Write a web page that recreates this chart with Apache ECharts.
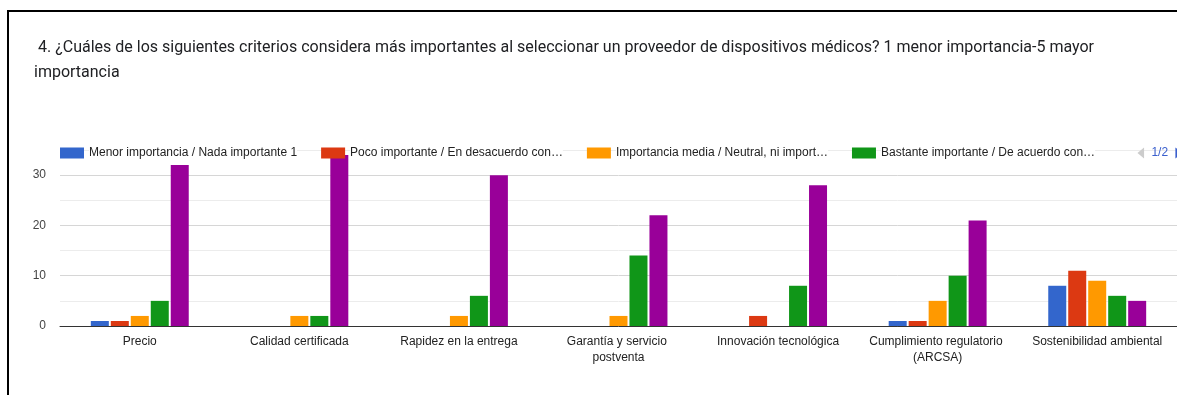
<!DOCTYPE html>
<html>
<head>
<meta charset="utf-8">
<script src="https://cdn.jsdelivr.net/npm/echarts@6/dist/echarts.min.js"></script>
<style>
  html, body { margin: 0; padding: 0; background: #fff; }
  #chart { position: absolute; left: 0; top: 0; width: 1177px; height: 395px; }
  #frame { position: absolute; left: 7px; top: 10px; width: 1200px; height: 400px;
           border-left: 2px solid #000; border-top: 2px solid #000; pointer-events: none; z-index: 5; }
</style>
</head>
<body>
<div id="chart"></div>
<div id="frame"></div>
<script>
const titleText = " 4. ¿Cuáles de los siguientes criterios considera más importantes al seleccionar un proveedor de dispositivos médicos? 1 menor importancia-5 mayor\nimportancia";

const categories = [
  "Precio",
  "Calidad certificada",
  "Rapidez en la entrega",
  "Garantía y servicio postventa",
  "Innovación tecnológica",
  "Cumplimiento regulatorio (ARCSA)",
  "Sostenibilidad ambiental"
];

const seriesNames = [
  "Menor importancia / Nada importante 1",
  "Poco importante / En desacuerdo con…",
  "Importancia media / Neutral, ni import…",
  "Bastante importante / De acuerdo con…",
  "Mayor importancia / Muy importante 5"
];

const seriesColors = ["#3366cc", "#dc3912", "#ff9900", "#109618", "#990099"];

const values1 = [1, 0, 0, 0, 0, 1, 8];
const values2 = [1, 0, 0, 0, 2, 1, 11];
const values3 = [2, 2, 2, 2, 0, 5, 9];
const values4 = [5, 2, 6, 14, 8, 10, 6];
const values5 = [32, 34, 30, 22, 28, 21, 5];

const allValues = [values1, values2, values3, values4, values5];

const chart = echarts.init(document.getElementById('chart'), null, { renderer: 'canvas' });

const series = seriesNames.map((name, i) => ({
  name: name,
  type: 'bar',
  data: allValues[i],
  barWidth: 18,
  barGap: '11%',
  itemStyle: { color: seriesColors[i] },
  emphasis: { disabled: true }
}));

chart.setOption({
  animation: false,
  backgroundColor: 'transparent',
  title: {
    text: titleText,
    left: 29,
    top: 30,
    textStyle: {
      fontFamily: 'Roboto',
      fontSize: 16,
      fontWeight: 'normal',
      color: '#202124',
      lineHeight: 25
    }
  },
  legend: {
    type: 'scroll',
    left: 55,
    top: 142,
    width: 1122,
    itemWidth: 24,
    itemHeight: 11,
    itemGap: 24,
    icon: 'rect',
    data: seriesNames,
    textStyle: {
      fontFamily: 'Liberation Sans, Arial',
      fontSize: 12,
      color: '#222',
      backgroundColor: '#fff'
    },
    pageButtonItemGap: 2,
    pageButtonGap: 28,
    pageIconSize: [11, 11],
    pageIcons: {
      horizontal: ['path://M0,0L12,-10L12,10z', 'path://M0,0L-12,-10L-12,10z']
    },
    pageIconColor: '#3a5fcd',
    pageIconInactiveColor: '#cccccc',
    pageTextStyle: {
      fontFamily: 'Liberation Sans, Arial',
      fontSize: 12,
      color: '#3a5fcd'
    }
  },
  grid: {
    left: 60,
    right: -11,
    top: 150,
    bottom: 69,
    containLabel: false
  },
  xAxis: {
    type: 'category',
    data: categories,
    axisTick: { show: false },
    axisLine: { lineStyle: { color: '#333', width: 1 } },
    axisLabel: {
      interval: 0,
      margin: 8,
      fontFamily: 'Liberation Sans, Arial',
      fontSize: 12,
      color: '#222',
      lineHeight: 16,
      width: 145,
      overflow: 'break'
    }
  },
  yAxis: {
    type: 'value',
    min: 0,
    max: 35,
    interval: 5,
    axisLine: { show: false },
    axisTick: { show: false },
    axisLabel: {
      margin: 14,
      fontFamily: 'Liberation Sans, Arial',
      fontSize: 12,
      color: '#444',
      formatter: function (v) { return v % 10 === 0 ? String(v) : ''; }
    },
    splitLine: {
      lineStyle: { color: ['#d6d6d6', '#ececec'], width: 1 }
    }
  },
  series: series
});
</script>
</body>
</html>
